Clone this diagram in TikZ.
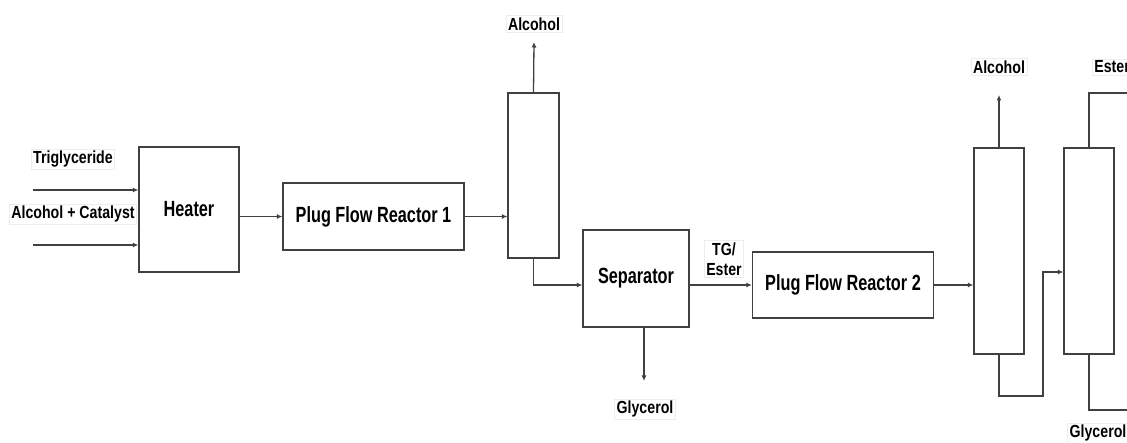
\documentclass[tikz,border=0pt]{standalone}
\usepackage{fontspec}
\setmainfont{Liberation Sans}
\newfontfamily\bigfont{Liberation Sans}[FakeStretch=0.74]
\newfontfamily\smallfont{Liberation Sans}[FakeStretch=0.81]
\usetikzlibrary{arrows.meta}
\begin{document}
\begin{tikzpicture}[x=1pt,y=-1pt,
  unit/.style={draw=black!75,line width=1.3pt,fill=white,inner sep=0pt},
  big/.style={font=\bigfont\fontsize{22}{24}\selectfont\bfseries},
  lab/.style={font=\smallfont\fontsize{17.5}{19.5}\selectfont\bfseries,draw=black!7,line width=0.6pt,inner sep=2pt,align=center},
  flow/.style={draw=black!75,line width=1.3pt,-{Latex[length=5.5pt,width=5pt]}},
  line/.style={draw=black!75,line width=1.3pt}]
\useasboundingbox (0,0) rectangle (1127,443);
% units
\node[unit,minimum width=100pt,minimum height=125pt] (heater) at (189,209.5) {};
\node[big] at (189,209) {Heater};
\node[unit,minimum width=181pt,minimum height=67pt,big] (pfr1) at (373.5,216.5) {Plug Flow Reactor 1};
\node[unit,minimum width=51pt,minimum height=165pt] (col1) at (533.5,175.5) {};
\node[unit,minimum width=106pt,minimum height=97pt,big] (sep) at (636,278.5) {Separator};
\node[unit,minimum width=181pt,minimum height=66pt,big] (pfr2) at (843,285) {Plug Flow Reactor 2};
\node[unit,minimum width=50pt,minimum height=206pt] (col2) at (999,251) {};
\node[unit,minimum width=50pt,minimum height=206pt] (col3) at (1089,251) {};
% labels
\node[lab] (ltg) at (73,159) {Triglyceride};
\node[lab] (lac) at (73,214) {Alcohol + Catalyst};
\node[lab] (lal1) at (534,24) {Alcohol};
\node[lab,font=\smallfont\fontsize{17.5}{20}\selectfont\bfseries] (ltge) at (724,259) {TG/\\Ester};
\node[lab] (lgl1) at (645,409) {Glycerol};
\node[lab] (lal2) at (999,67) {Alcohol};
\node[lab,anchor=west] (lest) at (1092,67) {Ester};
\node[lab] (lgl2) at (1098,433) {Glycerol};
% free ends
\coordinate (in1) at (33,190);
\coordinate (in2) at (33,245);
\coordinate (a1) at (534,42);
\coordinate (g1) at (644,381);
\coordinate (a2) at (999,95);
\coordinate (eend) at (1130,93);
\coordinate (gend) at (1130,410);
% connectors
\draw[flow] (in1) -- (in1 -| heater.west);
\draw[flow] (in2) -- (in2 -| heater.west);
\draw[flow] (heater.east |- pfr1.west) -- (pfr1.west);
\draw[flow] (pfr1.east) -- (pfr1.east -| col1.west);
\draw[flow] (col1.north) -- (a1);
\draw[flow] (col1.south) |- (sep.west |- 0,285);
\draw[flow] (sep.south -| g1) -- (g1);
\draw[flow] (sep.east |- 0,285) -- (pfr2.west);
\draw[flow] (pfr2.east) -- (pfr2.east -| col2.west);
\draw[flow] (col2.north) -- (a2);
\draw[flow] (col2.south) -- (999,396) -- (1043,396) -- (1043,272) -- (col3.west |- 0,272);
\draw[line] (col3.north) |- (eend);
\draw[line] (col3.south) |- (gend);
\end{tikzpicture}
\end{document}
